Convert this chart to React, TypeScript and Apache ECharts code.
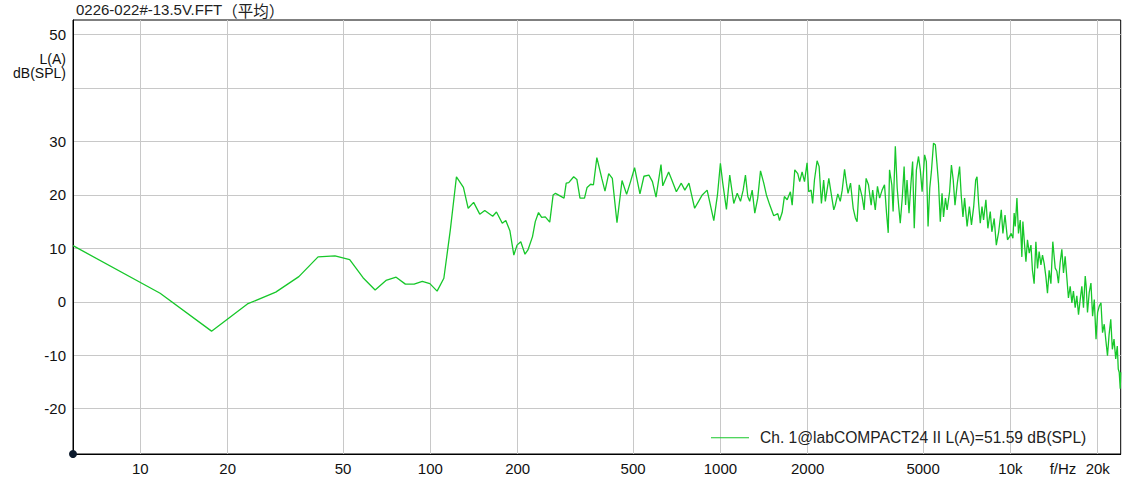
import React, { useEffect, useRef } from 'react';
import * as echarts from 'echarts';

const TITLE_LATIN = '0226-022#-13.5V.FFT';
const TITLE_CJK = '（平均）';
const SERIES_NAME = 'Ch. 1@labCOMPACT24 II L(A)=51.59 dB(SPL)';
const Y_UNIT_LINES = ['L(A)', 'dB(SPL)'];
const X_UNIT = 'f/Hz';

const F_MIN = 5.859;
const F_MAX = 24000;
const Y_MIN = -28.5;
const Y_MAX = 52.75;

const xTickHz = [10, 20, 50, 100, 200, 500, 1000, 2000, 5000, 10000, 20000];
const xTickLabels = ['10', '20', '50', '100', '200', '500', '1000', '2000', '5000', '10k', '20k'];
const yTicks = [-20, -10, 0, 10, 20, 30, 40, 50];
const yLabelValues = [-20, -10, 0, 10, 20, 30, 50];

const freqHz = [
  5.86, 11.7, 17.6, 23.4, 29.3, 35.2, 41.0, 46.9, 52.7, 58.6, 64.5, 70.3, 76.2, 82.0, 87.9, 93.8, 99.6, 105.5, 111.3, 117.2,
  123, 130, 135, 141, 148, 154, 164, 169, 177, 182, 188, 194, 199, 205, 212, 217, 225, 230, 236, 242,
  249, 258, 265, 270, 289, 294, 300, 312, 320, 328, 340, 347, 357, 365, 375, 390, 400, 412, 424, 440,
  458, 475, 490, 506, 528, 545, 567, 583, 600, 624, 633, 663, 679, 705, 733, 754, 779, 815, 843, 866,
  900, 949, 977, 1000, 1019, 1049, 1077, 1112, 1143, 1173, 1198, 1220, 1243, 1262, 1287, 1314, 1345, 1375, 1411, 1441,
  1480, 1527, 1577, 1599, 1633, 1662, 1699, 1743, 1768, 1805, 1848, 1877, 1913, 1950, 1990, 2016, 2055, 2080, 2110, 2155,
  2190, 2230, 2270, 2300, 2365, 2414, 2460, 2490, 2540, 2590, 2630, 2680, 2720, 2755, 2810, 2870, 2920, 2960, 3010, 3080,
  3130, 3180, 3240, 3310, 3350, 3420, 3480, 3540, 3610, 3680, 3740, 3790, 3830, 3900, 3940, 4010, 4070, 4120, 4170, 4240,
  4300, 4350, 4400, 4470, 4540, 4600, 4660, 4740, 4820, 4890, 4960, 5060, 5130, 5200, 5270, 5340, 5430, 5510, 5580, 5650,
  5730, 5810, 5880, 5970, 6050, 6170, 6260, 6350, 6440, 6560, 6680, 6770, 6860, 6950, 7090, 7220, 7340, 7470, 7590, 7670,
  7770, 7870, 7980, 8080, 8230, 8360, 8520, 8630, 8790, 8940, 9110, 9300, 9420, 9580, 9770, 9930, 10060, 10200, 10300, 10390,
  10530, 10660, 10810, 10950, 11040, 11180, 11310, 11450, 11610, 11770, 11910, 12070, 12240, 12400, 12560, 12740, 12900, 13070, 13250, 13420,
  13600, 13790, 14000, 14270, 14460, 14640, 14840, 15040, 15240, 15440, 15650, 15850, 16070, 16290, 16490, 16720, 16940, 17170, 17400, 17630,
  17860, 18110, 18250, 18440, 18690, 18950, 19200, 19460, 19730, 19980, 20250, 20520, 20780, 21060, 21340, 21610, 21890, 22180, 22460, 22760,
  23070, 23360, 23540, 23720, 23910, 24000,
];

const levelDb = [
  10.5, 1.6, -5.5, -0.4, 1.8, 4.7, 8.4, 8.6, 7.9, 4.5, 2.2, 4.0, 4.6, 3.3, 3.3, 3.8, 3.4, 2.0, 4.4, 13.5,
  23.4, 21.4, 17.5, 18.6, 16.4, 17.1, 16.0, 16.8, 14.7, 15.2, 13.3, 8.75, 10.6, 11.25, 8.9, 9.7, 12.2, 15.0, 16.7, 15.8,
  15.9, 14.9, 20.0, 20.3, 19.4, 22.2, 22.3, 23.4, 22.9, 19.4, 19.4, 21.4, 22.0, 21.9, 27.0, 23.1, 20.7, 24.0, 23.1, 14.8,
  22.7, 20.1, 22.5, 25.1, 20.2, 23.5, 23.7, 22.5, 19.6, 25.7, 21.7, 24.3, 22.9, 20.6, 22.2, 20.9, 22.2, 17.5, 18.9, 20.0,
  20.9, 15.2, 20.0, 25.9, 22.2, 17.3, 23.7, 18.4, 20.3, 18.8, 20.9, 23.7, 19.7, 18.8, 20.9, 16.6, 19.4, 24.5, 22.2, 20.0,
  18.1, 16.1, 16.5, 15.2, 16.7, 19.7, 19.1, 20.6, 18.1, 24.7, 24.0, 22.5, 24.3, 22.5, 26.0, 20.6, 20.9, 18.4, 22.8, 26.4,
  25.3, 18.4, 22.8, 18.8, 23.1, 20.0, 17.2, 18.1, 20.2, 18.8, 20.9, 24.8, 22.2, 20.3, 22.2, 17.5, 15.7, 15.0, 21.9, 19.7,
  17.2, 23.1, 21.9, 18.1, 20.9, 17.2, 21.6, 19.4, 20.9, 21.9, 16.6, 12.9, 24.7, 21.9, 16.9, 29.1, 21.25, 17.8, 14.7, 19.7,
  25.3, 18.1, 22.8, 16.6, 22.2, 26.25, 13.75, 24.7, 27.2, 24.7, 20.6, 27.5, 26.25, 14.1, 21.25, 24.4, 29.7, 29.4, 25.9, 22.2,
  15.0, 20.3, 15.9, 19.4, 17.2, 20.6, 25.6, 22.8, 18.1, 22.2, 25.3, 19.7, 15.9, 19.4, 14.1, 17.8, 14.4, 17.8, 22.8, 23.4,
  18.4, 14.7, 17.8, 15.3, 19.1, 13.75, 16.9, 13.1, 15.6, 10.6, 13.1, 17.2, 12.8, 16.25, 11.6, 12.2, 12.8, 11.9, 16.6, 14.1,
  19.4, 12.8, 15.3, 8.4, 15.0, 10.9, 7.5, 11.6, 9.1, 10.6, 5.9, 3.4, 11.25, 6.25, 9.4, 6.9, 8.75, 7.2, 4.7, 1.6,
  5.9, 3.4, 11.25, 6.3, 5.7, 3.5, 7.3, 9.8, 5.4, 8.5, 4.5, 0.7, 2.9, -0.2, 2.0, -1.1, 1.1, -2.4, 0.4, 2.9,
  -1.1, 4.8, 2.9, -2.0, 1.7, 3.5, -2.7, 0.4, -7.0, -2.0, -0.8, -0.2, -5.8, -4.2, -7.3, -10.1, -6.1, -3.3, -8.9, -7.0,
  -10.7, -8.3, -12.6, -13.2, -16.3, -13.2,
];

const FONT = "'Liberation Sans', Arial, 'Noto Sans CJK SC', sans-serif";
const CJK_FONT = "'Noto Sans CJK SC', sans-serif";
const LINE_COLOR = '#17c72a';
const GRID_COLOR = '#c8c8c8';
const TEXT_COLOR = '#111';

export default function App() {
  const ref = useRef<HTMLDivElement>(null);

  useEffect(() => {
    if (!ref.current) return;
    const chart = echarts.init(ref.current, undefined, { renderer: 'svg' });
    const xTickLog = xTickHz.map((f) => Math.log10(f));
    const fmtX = (v: number) => {
      const i = xTickLog.findIndex((t) => Math.abs(t - v) < 1e-6);
      return i >= 0 ? xTickLabels[i] : '';
    };
    chart.setOption({
      animation: false,
      textStyle: { fontFamily: FONT },
      grid: {
        left: 73,
        top: 20,
        width: 1047.7,
        height: 434,
        show: true,
        borderColor: '#000',
        borderWidth: 1,
        backgroundColor: 'transparent',
      },
      legend: {
        show: true,
        left: 711,
        top: 430,
        padding: 0,
        itemWidth: 38,
        itemHeight: 1,
        textStyle: { fontFamily: FONT, fontSize: 15.6, color: '#222', padding: [0, 0, 0, 6] },
        data: [{ name: SERIES_NAME, icon: 'rect', itemStyle: { color: LINE_COLOR } }],
      },
      xAxis: {
        type: 'value',
        min: Math.log10(F_MIN),
        max: Math.log10(F_MAX),
        axisLine: { show: true, onZero: false, lineStyle: { color: '#000', width: 1 } },
        axisTick: { show: false, customValues: xTickLog },
        axisLabel: {
          customValues: xTickLog,
          formatter: fmtX,
          margin: 7,
          fontSize: 15,
          color: TEXT_COLOR,
          fontFamily: FONT,
        },
        splitLine: { show: true, lineStyle: { color: GRID_COLOR, width: 1 } },
      },
      yAxis: {
        type: 'value',
        min: Y_MIN,
        max: Y_MAX,
        axisLine: { show: true, lineStyle: { color: '#000', width: 1 } },
        axisTick: { show: false, customValues: yTicks },
        axisLabel: {
          customValues: yLabelValues,
          margin: 7,
          fontSize: 15,
          color: TEXT_COLOR,
          fontFamily: FONT,
        },
        splitLine: { show: true, lineStyle: { color: GRID_COLOR, width: 1 } },
      },
      series: [
        {
          name: SERIES_NAME,
          type: 'line',
          data: freqHz.map((f, i) => [Math.log10(f), levelDb[i]]),
          symbol: 'none',
          showSymbol: false,
          lineStyle: { color: LINE_COLOR, width: 1.3 },
          itemStyle: { color: LINE_COLOR },
        },
      ],
      graphic: [
        {
          type: 'text',
          x: 76,
          y: 2,
          style: {
            text: `{a|${TITLE_LATIN}}{b|${TITLE_CJK}}`,
            verticalAlign: 'top',
            rich: {
              a: { fontSize: 15, fill: '#222', fontFamily: FONT, lineHeight: 15 },
              b: { fontSize: 15.5, fill: '#222', fontFamily: CJK_FONT, lineHeight: 15 },
            },
          },
        },
        {
          type: 'text',
          x: 66,
          y: 52,
          style: {
            text: Y_UNIT_LINES[0],
            fontSize: 14,
            lineHeight: 14,
            fill: TEXT_COLOR,
            fontFamily: FONT,
            align: 'right',
            verticalAlign: 'top',
          },
        },
        {
          type: 'text',
          x: 66,
          y: 66,
          style: {
            text: Y_UNIT_LINES[1],
            fontSize: 14,
            lineHeight: 14,
            fill: TEXT_COLOR,
            fontFamily: FONT,
            align: 'right',
            verticalAlign: 'top',
          },
        },
        {
          type: 'text',
          x: 1063,
          y: 461,
          style: { text: X_UNIT, fontSize: 15, fill: TEXT_COLOR, fontFamily: FONT, align: 'center', verticalAlign: 'top' },
        },
        {
          type: 'circle',
          shape: { cx: 73, cy: 454, r: 4 },
          style: { fill: '#0c1a2c' },
          z: 100,
        },
      ],
    });
    return () => chart.dispose();
  }, []);

  return (
    <div
      ref={ref}
      style={{ position: 'fixed', left: 0, top: 0, width: 1123, height: 488, background: '#fff' }}
    />
  );
}
